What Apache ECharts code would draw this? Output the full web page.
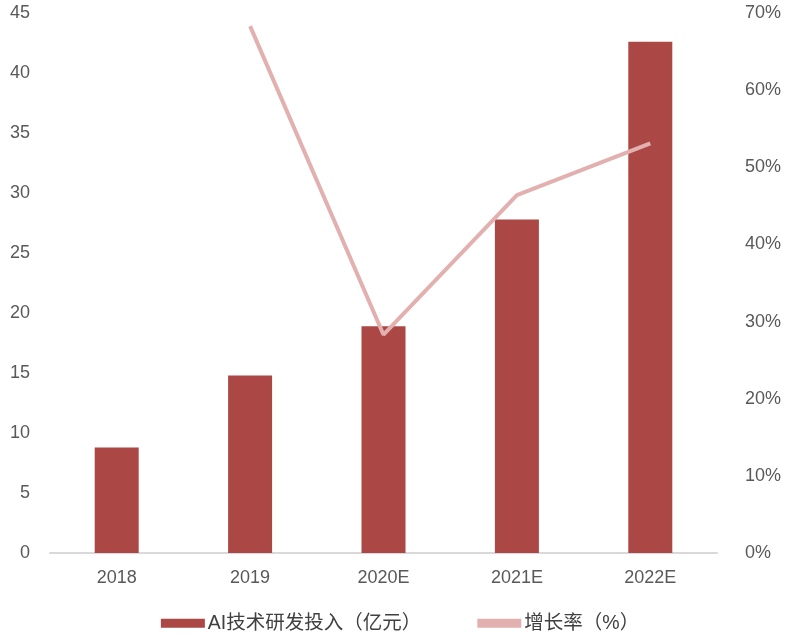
<!DOCTYPE html>
<html><head><meta charset="utf-8">
<script src="https://cdn.jsdelivr.net/npm/echarts@6/dist/echarts.min.js"></script>
<style>html,body{margin:0;padding:0;background:#fff}#c{width:800px;height:638px}</style>
</head><body><div id="c"></div>
<script>
const categories = ['2018','2019','2020E','2021E','2022E'];
const investment = [8.8, 14.8, 18.9, 27.8, 42.6];
const growth = [null, 68.3, 28.3, 46.4, 53.1];
const leftTicks = {min:0, max:45, interval:5};
const rightTicks = {min:0, max:70, interval:10};

const chart = echarts.init(document.getElementById('c'));
const font = '"Liberation Sans", Arial, "Noto Sans CJK SC", sans-serif';
chart.setOption({
  animation:false,
  textStyle:{fontFamily:font},
  grid:{left:50, right:83, top:13, bottom:85},
  legend:{
    bottom:0, left:'center', itemWidth:44, itemHeight:9, itemGap:56,
    textStyle:{fontSize:19.5, color:'#404040', fontFamily:font, padding:[0,0,0,-2]},
    data:[{name:'AI技术研发投入（亿元）', icon:'rect'}, {name:'增长率（%）', icon:'rect', itemStyle:{color:'#E3B0B0'}}]
  },
  xAxis:{
    type:'category', data:categories,
    axisLine:{lineStyle:{color:'#D9D9D9', width:2}},
    axisTick:{show:false},
    axisLabel:{fontSize:18, color:'#595959', margin:16}
  },
  yAxis:[
    {type:'value', min:leftTicks.min, max:leftTicks.max, interval:leftTicks.interval,
     splitLine:{show:false}, axisLine:{show:false}, axisTick:{show:false},
     axisLabel:{fontSize:18, color:'#595959', margin:20}},
    {type:'value', min:rightTicks.min, max:rightTicks.max, interval:rightTicks.interval,
     splitLine:{show:false}, axisLine:{show:false}, axisTick:{show:false},
     axisLabel:{fontSize:18, color:'#595959', margin:28, formatter:'{value}%'}}
  ],
  series:[
    {name:'AI技术研发投入（亿元）', type:'bar', data:investment, barWidth:44,
     itemStyle:{color:'#AB4744'}},
    {name:'增长率（%）', type:'line', yAxisIndex:1, data:growth, symbol:'none',
     lineStyle:{color:'#E3B0B0', width:4}, itemStyle:{color:'#E3B0B0'}}
  ]
});
</script></body></html>
